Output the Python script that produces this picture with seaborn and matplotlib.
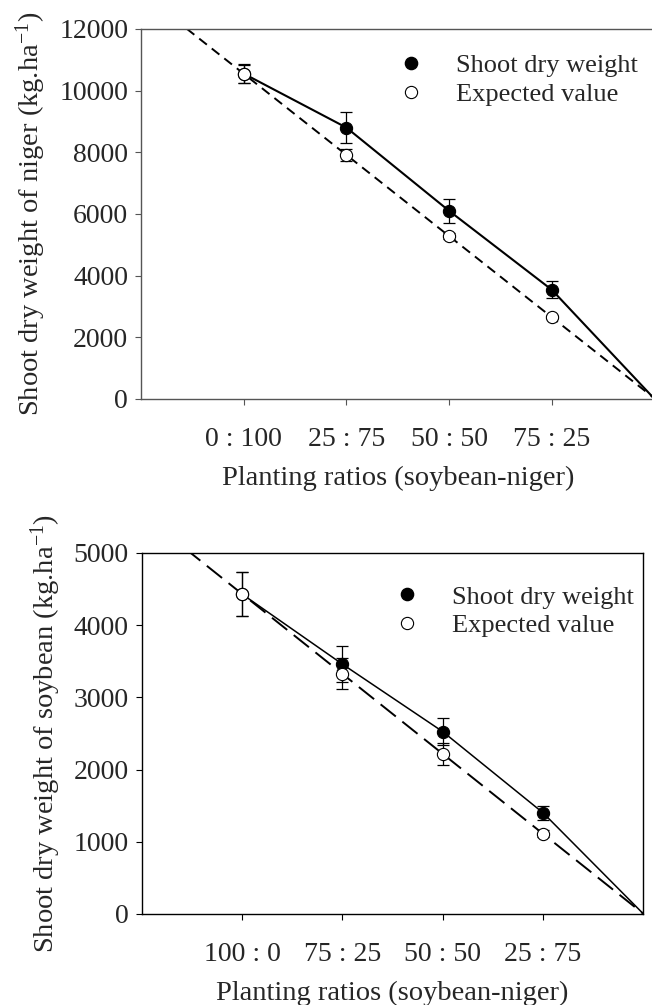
import numpy as np
import pandas as pd
import matplotlib
matplotlib.use("Agg")
import matplotlib.pyplot as plt
from matplotlib.lines import Line2D
import seaborn as sns

# ---- data -------------------------------------------------------------
positions = [1, 2, 3, 4]
niger_ratio_labels = ["0 : 100", "25 : 75", "50 : 50", "75 : 25"]
soy_ratio_labels = ["100 : 0", "75 : 25", "50 : 50", "25 : 75"]

niger_shoot = [10550, 8800, 6100, 3540]
niger_shoot_err = [300, 500, 390, 270]
niger_expected = [10540, 7910, 5290, 2670]
niger_expected_err = [300, 200, 90, 60]

soy_shoot = [4430, 3460, 2525, 1400]
soy_shoot_err = [300, 245, 185, 100]
soy_expected = [4430, 3330, 2215, 1110]
soy_expected_err = [300, 220, 150, 50]

# ---- style ------------------------------------------------------------
sns.set_theme(style="ticks")
plt.rcParams["font.family"] = ["Liberation Serif", "DejaVu Serif"]
plt.rcParams["mathtext.fontset"] = "custom"
plt.rcParams["mathtext.rm"] = "Liberation Serif"
plt.rcParams["mathtext.it"] = "Liberation Serif:italic"
plt.rcParams["lines.scale_dashes"] = False

FS = 20
MS = 8.8          # marker diameter in points

fig = plt.figure(figsize=(6.52, 10.05), dpi=100)
ax_top = fig.add_axes([0.2163, 0.6030, 0.7876, 0.3682])
ax_bot = fig.add_axes([0.2173, 0.0906, 0.7696, 0.3592])


def draw_panel(ax, shoot, shoot_err, expected, expected_err, ylim, yticks,
               xlabels, ylabel, spine_color, lw_solid, lw_dash, dash,
               legend_anchor):
    n = len(positions)
    end_x = n + 1
    # observed yields, continued to zero at the pure-stand end
    obs = pd.DataFrame({"x": positions + [end_x], "y": shoot + [0]})
    sns.lineplot(data=obs, x="x", y="y", ax=ax, color="black",
                 linewidth=lw_solid, sort=False, zorder=2)

    # expected yields fall on a straight line through zero
    fit = np.polyfit(positions + [end_x], expected + [0], 1)
    line_x = np.array([0, end_x])
    exp_line = pd.DataFrame({"x": line_x, "y": np.polyval(fit, line_x)})
    sns.lineplot(data=exp_line, x="x", y="y", ax=ax, color="black",
                 linewidth=lw_dash, linestyle=(0, dash), zorder=2)

    ax.errorbar(positions, shoot, yerr=shoot_err, fmt="none", ecolor="black",
                elinewidth=0.9, capsize=4, capthick=0.9, zorder=3)
    sns.scatterplot(x=positions, y=shoot, ax=ax, color="black", s=MS ** 2,
                    edgecolor="black", linewidth=0.8, zorder=4)
    ax.errorbar(positions, expected, yerr=expected_err, fmt="none",
                ecolor="black", elinewidth=0.9, capsize=4, capthick=0.9,
                zorder=5)
    sns.scatterplot(x=positions, y=expected, ax=ax, color="white", s=MS ** 2,
                    edgecolor="black", linewidth=0.8, zorder=6)

    ax.set_xlim(0, end_x)
    ax.set_ylim(*ylim)
    ax.set_xticks(positions)
    ax.set_xticklabels(xlabels, fontsize=FS)
    ax.set_yticks(yticks)
    ax.set_yticklabels([str(t) for t in yticks], fontsize=FS)
    ax.tick_params(axis="both", direction="out", length=4.3, width=0.8,
                   color=spine_color, pad=5)
    ax.tick_params(axis="x", pad=16)
    for sp in ax.spines.values():
        sp.set_color(spine_color)
        sp.set_linewidth(1.0)
    ax.set_xlabel("Planting ratios (soybean-niger)", fontsize=FS + 0.5,
                  labelpad=10)
    ax.set_ylabel(ylabel, fontsize=FS + 0.5, labelpad=8)

    handles = [
        Line2D([], [], marker="o", linestyle="none", markersize=MS,
               markerfacecolor="black", markeredgecolor="black"),
        Line2D([], [], marker="o", linestyle="none", markersize=MS,
               markerfacecolor="white", markeredgecolor="black",
               markeredgewidth=0.8),
    ]
    ax.legend(handles, ["Shoot dry weight", "Expected value"], frameon=False,
              fontsize=FS - 1, loc="upper left", handlelength=1.0,
              handletextpad=1.2, labelspacing=0.2, borderaxespad=0,
              bbox_to_anchor=legend_anchor)


draw_panel(ax_top, niger_shoot, niger_shoot_err, niger_expected,
           niger_expected_err, (0, 12000), list(range(0, 12001, 2000)),
           niger_ratio_labels, "Shoot dry weight of niger (kg.ha$^{-1}$)",
           "#555555", 1.5, 1.4, (7.0, 4.5), (0.48, 0.962))
draw_panel(ax_bot, soy_shoot, soy_shoot_err, soy_expected,
           soy_expected_err, (0, 5000), list(range(0, 5001, 1000)),
           soy_ratio_labels, "Shoot dry weight of soybean (kg.ha$^{-1}$)",
           "black", 1.1, 1.4, (14.0, 6.0), (0.482, 0.94))

fig.savefig("out.png", dpi=100)
